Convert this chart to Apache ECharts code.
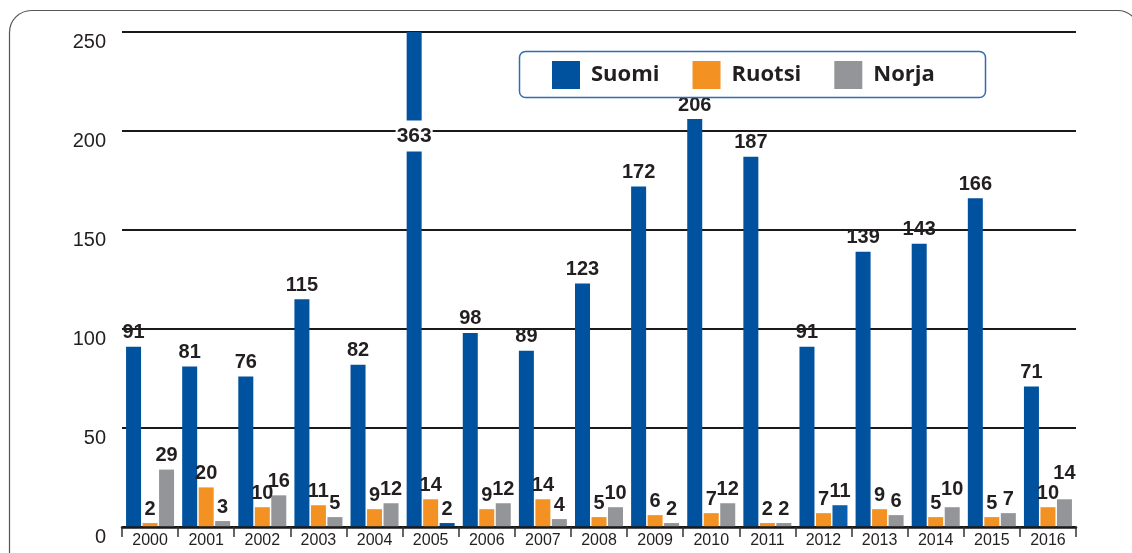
<!DOCTYPE html>
<html><head><meta charset="utf-8">
<script src="https://cdn.jsdelivr.net/npm/echarts@6/dist/echarts.min.js"></script>
<style>html,body{margin:0;padding:0;background:#fff}#c{width:1132px;height:553px}</style>
</head><body><div id="c"></div>
<script>
const categories = ['2000','2001','2002','2003','2004','2005','2006','2007','2008','2009','2010','2011','2012','2013','2014','2015','2016'];
const suomi  = [91, 81, 76, 115, 82, 363, 98, 89, 123, 172, 206, 187, 91, 139, 143, 166, 71];
const ruotsi = [2, 20, 10, 11, 9, 14, 9, 14, 5, 6, 7, 2, 7, 9, 5, 5, 10];
const norja  = [29, 3, 16, 5, 12, 2, 12, 4, 10, 2, 12, 2, 11, 6, 10, 7, 14];
const yTicks = [0, 50, 100, 150, 200, 250];

const BLUE = '#00529F', ORANGE = '#F39222', GRAY = '#949599';
const TXT = '#231F20';
const FONT = '"Liberation Sans", Arial, sans-serif';
const yMax = yTicks[yTicks.length - 1];

const labelBase = { show: true, position: 'top', distance: 4, color: TXT, fontFamily: FONT, fontWeight: 'bold', fontSize: 20 };

const suomiData = suomi.map(v => v > yMax ? {
  value: v,
  label: { position: ['50%', 104], align: 'center', verticalAlign: 'middle', backgroundColor: '#fff', padding: [5, 1, 5, 1], fontSize: 21 }
} : v);
const ruotsiData = ruotsi.map(v => v);
const norjaData = norja.map((v, i) => {
  const o = { value: v };
  if (i === 5 || i === 12) o.itemStyle = { color: i === 5 ? BLUE : '#0A5EAD' };
  if (i === 16) o.label = { distance: 16 };
  if (i === 14) o.label = { distance: 8 };
  return o;
});

const chart = echarts.init(document.getElementById('c'), null, { renderer: 'canvas' });
chart.setOption({
  animation: false,
  grid: { left: 122, right: 56, top: 32, bottom: 26, containLabel: false },
  legend: {
    left: 552, top: 61, padding: 0,
    itemWidth: 28, itemHeight: 28, itemGap: 33,
    icon: 'rect',
    textStyle: { fontFamily: '"Open Sans", sans-serif', fontWeight: 'bold', fontSize: 22, color: TXT, padding: [0, 0, 0, 6] },
    data: ['Suomi', 'Ruotsi', 'Norja']
  },
  graphic: [
    { type: 'rect', silent: true, z: -1, shape: { x: 9.5, y: 10.5, width: 1130, height: 640, r: 22 }, style: { fill: 'none', stroke: '#555', lineWidth: 1.2 } },
    { type: 'rect', silent: true, z: 10, shape: { x: 519.5, y: 51.5, width: 466, height: 46, r: 6 }, style: { fill: 'none', stroke: '#2E6DB4', lineWidth: 1.5 } }
  ],
  xAxis: {
    type: 'category', data: categories,
    axisLine: { lineStyle: { color: '#1a1a1a', width: 2.5 } },
    axisTick: { show: true, length: 10, lineStyle: { color: '#333', width: 1.5 } },
    axisLabel: { color: TXT, fontFamily: FONT, fontSize: 16, margin: 6 },
    z: 5
  },
  yAxis: {
    type: 'value', min: 0, max: yMax, interval: 50,
    axisLine: { show: false }, axisTick: { show: false },
    axisLabel: { color: TXT, fontFamily: FONT, fontSize: 20, margin: 16, verticalAlign: 'top', padding: [0, 0, 0, 0] },
    splitLine: { lineStyle: { color: '#1a1a1a', width: 2 } }
  },
  series: [
    { name: 'Suomi', type: 'bar', data: suomiData, barWidth: 15, barGap: '10%', itemStyle: { color: BLUE }, label: labelBase, clip: true, z: 3 },
    { name: 'Ruotsi', type: 'bar', data: ruotsiData, barWidth: 15, barGap: '10%', itemStyle: { color: ORANGE }, label: labelBase, z: 3 },
    { name: 'Norja', type: 'bar', data: norjaData, barWidth: 15, barGap: '10%', itemStyle: { color: GRAY }, label: labelBase, z: 3 }
  ]
});
</script></body></html>
